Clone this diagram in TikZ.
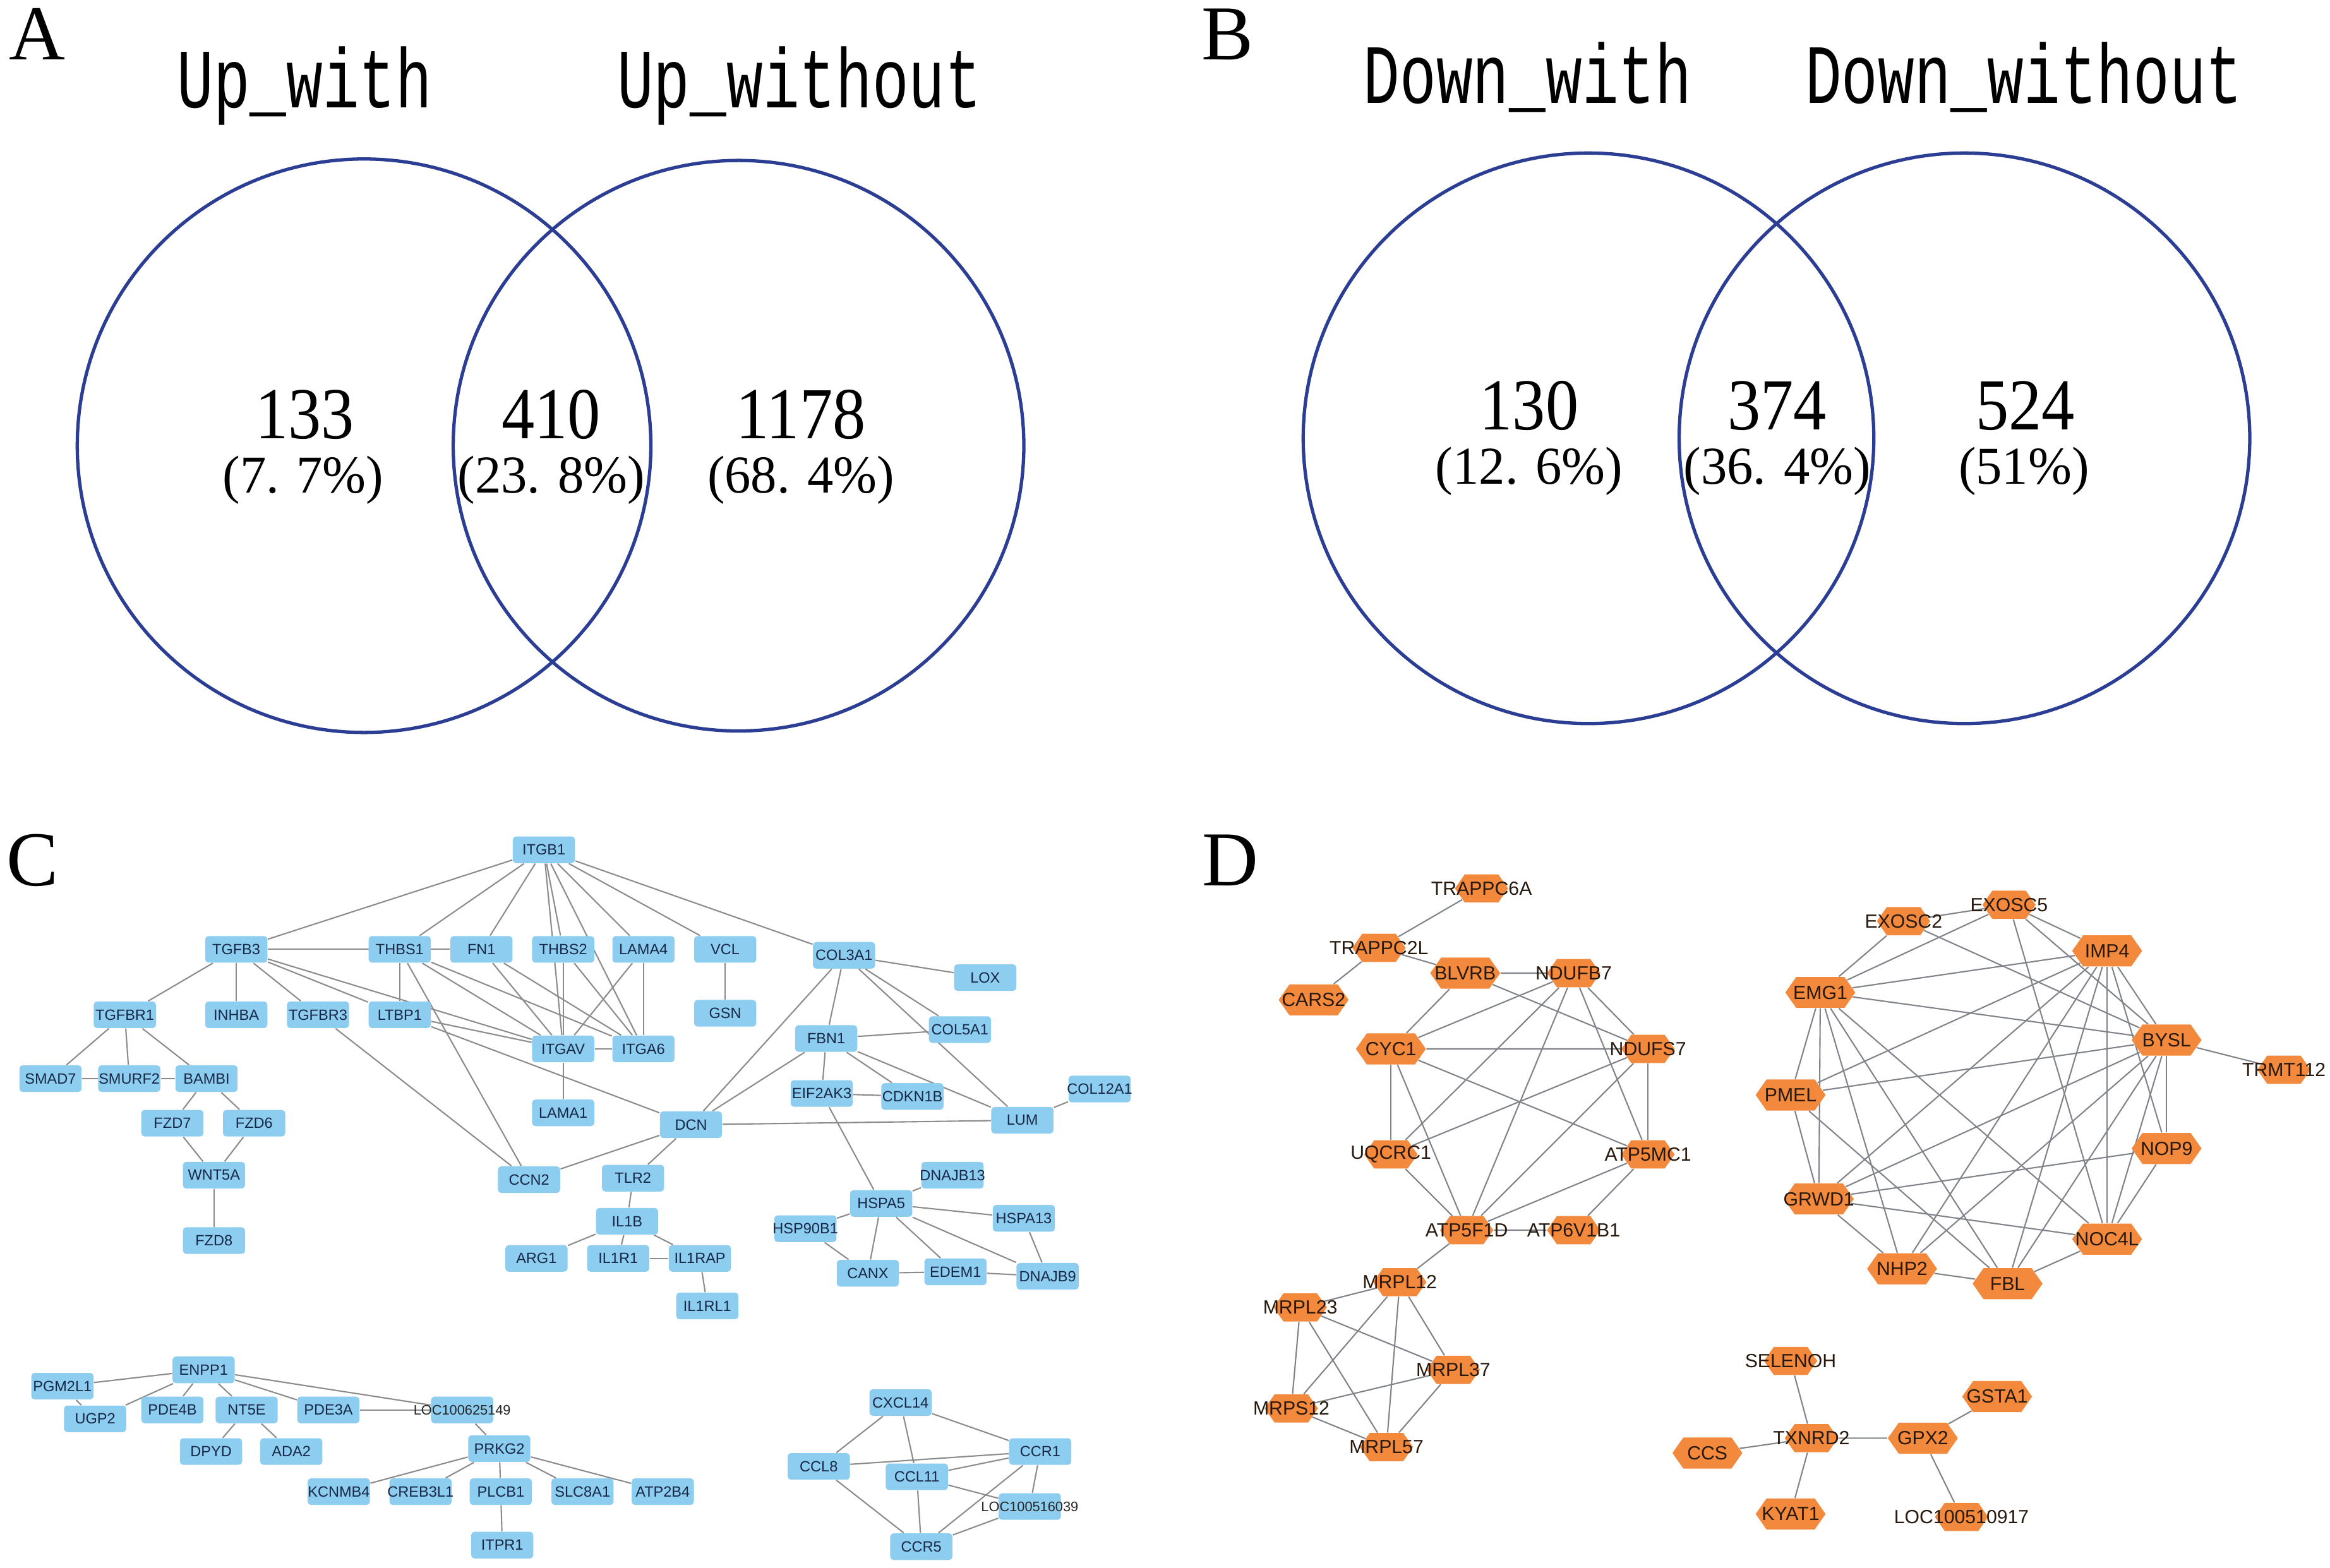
\documentclass[tikz,border=0pt]{standalone}
\usepackage{fontspec}
\usepackage{graphicx}
\setmainfont{Liberation Serif}
\setsansfont{Liberation Sans}
\newfontfamily\monof{Liberation Mono}
\usetikzlibrary{shapes.symbols}
\definecolor{vennblue}{RGB}{44,62,148}
\definecolor{nodeblue}{RGB}{140,205,240}
\definecolor{hexorange}{RGB}{242,137,60}
\definecolor{edgegray}{RGB}{140,140,140}
\definecolor{dedgecol}{RGB}{128,132,138}
\definecolor{ctext}{RGB}{25,40,70}
\definecolor{dtext}{RGB}{40,25,15}
\pgfdeclarelayer{bg}
\pgfsetlayers{bg,main}
\newcommand\gnC[3]{\node[cbox] (#1) at (#2) {\makebox[0pt]{#3}};}
\newcommand\gnD[4]{\node[#1] (#2) at (#3) {\makebox[0pt]{#4}};}
\newcommand\loctxt[1]{{\fontsize{6.2}{7}\selectfont\color{black!85}#1}}
\begin{document}
\begin{tikzpicture}[x=0.023527cm, y=-0.023527cm,
  cbox/.style={rectangle, rounded corners=1.5pt, fill=nodeblue, draw=none, minimum width=28pt, minimum height=12pt, inner sep=0pt, font=\sffamily\fontsize{6.7}{7}\selectfont, text=ctext},
  hexbase/.style={signal, signal to=west and east, signal pointer angle=110, fill=hexorange, draw=none, inner sep=0pt, font=\sffamily\fontsize{8.6}{10}\selectfont, text=dtext},
  hexL/.style={hexbase, minimum width=31.5pt, minimum height=14pt},
  hexS/.style={hexbase, minimum width=24pt, minimum height=12.7pt},
  cedge/.style={draw=edgegray, line width=0.6pt},
  dedge/.style={draw=dedgecol, line width=0.6pt},
  venn/.style={draw=vennblue, line width=1.5pt},
  plabel/.style={font=\fontsize{35}{35}\selectfont, inner sep=0pt},
  vtitle/.style={font=\monof\fontsize{38}{38}\selectfont, inner sep=0pt},
  vnum/.style={font=\fontsize{33}{33}\selectfont, inner sep=0pt},
  vpct/.style={font=\fontsize{24}{24}\selectfont, inner sep=0pt}
]
\begin{pgfonlayer}{bg}
\fill[white] (0,0) rectangle (1568,1055);
\end{pgfonlayer}
\useasboundingbox (0,0) rectangle (1568,1055);

% panel letters
\node[plabel] (pA) at (25,23) {A};
\node[plabel] (pB) at (826,23) {B};
\node[plabel] (pC) at (22,579) {C};
\node[plabel] (pD) at (828,579) {D};

% Venn A
\draw[venn] (245,300) circle [radius=193];
\draw[venn] (497,300) circle [radius=192];
\node[vtitle] (tUw) at (205,58) {\scalebox{0.72}[1]{Up\_with}};
\node[vtitle] (tUwo) at (538,58) {\scalebox{0.72}[1]{Up\_without}};
\node[vnum] (n133) at (205,279) {\scalebox{0.9}[1]{133}};
\node[vpct] (p133) at (204,323) {\scalebox{0.98}[1]{(7.\,\,7\%)}};
\node[vnum] (n410) at (371,279) {\scalebox{0.9}[1]{410}};
\node[vpct] (p410) at (371,323) {\scalebox{0.98}[1]{(23.\,\,8\%)}};
\node[vnum] (n1178) at (539,279) {\scalebox{0.9}[1]{1178}};
\node[vpct] (p1178) at (539,323) {\scalebox{0.98}[1]{(68.\,\,4\%)}};

% Venn B
\draw[venn] (1069,295) circle [radius=192];
\draw[venn] (1322,295) circle [radius=192];
\node[vtitle] (tDw) at (1028,52) {\scalebox{0.72}[1]{Down\_with}};
\node[vtitle] (tDwo) at (1362,52) {\scalebox{0.72}[1]{Down\_without}};
\node[vnum] (n130) at (1029,273) {\scalebox{0.9}[1]{130}};
\node[vpct] (p130) at (1029,317) {\scalebox{0.98}[1]{(12.\,\,6\%)}};
\node[vnum] (n374) at (1196,273) {\scalebox{0.9}[1]{374}};
\node[vpct] (p374) at (1196,317) {\scalebox{0.98}[1]{(36.\,\,4\%)}};
\node[vnum] (n524) at (1363,273) {\scalebox{0.9}[1]{524}};
\node[vpct] (p524) at (1362,317) {\scalebox{0.98}[1]{(51\%)}};

% Panel C nodes
\gnC{ITGB1}{366,572}{ITGB1}
\gnC{TGFB3}{159,639}{TGFB3}
\gnC{THBS1}{269,639}{THBS1}
\gnC{FN1}{324,639}{FN1}
\gnC{THBS2}{379,639}{THBS2}
\gnC{LAMA4}{433,639}{LAMA4}
\gnC{VCL}{488,639}{VCL}
\gnC{COL3A1}{568,643}{COL3A1}
\gnC{LOX}{663,658}{LOX}
\gnC{TGFBR1}{84,683}{TGFBR1}
\gnC{INHBA}{159,683}{INHBA}
\gnC{TGFBR3}{214,683}{TGFBR3}
\gnC{LTBP1}{269,683}{LTBP1}
\gnC{GSN}{488,682}{GSN}
\gnC{FBN1}{556,699}{FBN1}
\gnC{COL5A1}{646,693}{COL5A1}
\gnC{ITGAV}{379,706}{ITGAV}
\gnC{ITGA6}{433,706}{ITGA6}
\gnC{SMAD7}{34,726}{SMAD7}
\gnC{SMURF2}{87,726}{SMURF2}
\gnC{BAMBI}{139,726}{BAMBI}
\gnC{EIF2AK3}{553,736}{EIF2AK3}
\gnC{CDKN1B}{614,738}{CDKN1B}
\gnC{COL12A1}{740,733}{COL12A1}
\gnC{LUM}{688,754}{LUM}
\gnC{FZD7}{116,756}{FZD7}
\gnC{FZD6}{171,756}{FZD6}
\gnC{LAMA1}{379,749}{LAMA1}
\gnC{DCN}{465,757}{DCN}
\gnC{WNT5A}{144,791}{WNT5A}
\gnC{CCN2}{356,794}{CCN2}
\gnC{TLR2}{426,793}{TLR2}
\gnC{DNAJB13}{641,791}{DNAJB13}
\gnC{HSPA5}{593,810}{HSPA5}
\gnC{IL1B}{422,822}{IL1B}
\gnC{HSPA13}{689,820}{HSPA13}
\gnC{HSP90B1}{542,827}{HSP90B1}
\gnC{FZD8}{144,835}{FZD8}
\gnC{ARG1}{361,847}{ARG1}
\gnC{IL1R1}{416,847}{IL1R1}
\gnC{IL1RAP}{471,847}{IL1RAP}
\gnC{CANX}{584,857}{CANX}
\gnC{EDEM1}{643,856}{EDEM1}
\gnC{DNAJB9}{705,859}{DNAJB9}
\gnC{IL1RL1}{476,879}{IL1RL1}
\gnC{ENPP1}{137,922}{ENPP1}
\gnC{PGM2L1}{42,933}{PGM2L1}
\gnC{UGP2}{64,955}{UGP2}
\gnC{PDE4B}{116,949}{PDE4B}
\gnC{NT5E}{166,949}{NT5E}
\gnC{PDE3A}{221,949}{PDE3A}
\gnC{LOCa}{311,949}{\loctxt{LOC100625149}}
\gnC{DPYD}{142,977}{DPYD}
\gnC{ADA2}{196,977}{ADA2}
\gnC{PRKG2}{336,975}{PRKG2}
\gnC{KCNMB4}{228,1004}{KCNMB4}
\gnC{CREB3L1}{283,1004}{CREB3L1}
\gnC{PLCB1}{337,1004}{PLCB1}
\gnC{SLC8A1}{392,1004}{SLC8A1}
\gnC{ATP2B4}{446,1004}{ATP2B4}
\gnC{ITPR1}{338,1040}{ITPR1}
\gnC{CXCL14}{606,944}{CXCL14}
\gnC{CCL8}{551,987}{CCL8}
\gnC{CCL11}{617,994}{CCL11}
\gnC{CCR1}{700,977}{CCR1}
\gnC{LOCb}{693,1014}{\loctxt{LOC100516039}}
\gnC{CCR5}{620,1041}{CCR5}

% Panel D nodes
\gnD{hexS}{TRAPPC6A}{997,598}{TRAPPC6A}
\gnD{hexS}{TRAPPC2L}{928,638}{TRAPPC2L}
\gnD{hexL}{CARS2}{884,673}{CARS2}
\gnD{hexL}{BLVRB}{986,655}{BLVRB}
\gnD{hexS}{NDUFB7}{1059,655}{NDUFB7}
\gnD{hexL}{CYC1}{936,706}{CYC1}
\gnD{hexS}{NDUFS7}{1109,706}{NDUFS7}
\gnD{hexS}{UQCRC1}{936,777}{UQCRC1}
\gnD{hexS}{ATP5MC1}{1109,777}{ATP5MC1}
\gnD{hexS}{ATP5F1D}{987,828}{ATP5F1D}
\gnD{hexS}{ATP6V1B1}{1059,828}{ATP6V1B1}
\gnD{hexS}{MRPL12}{942,863}{MRPL12}
\gnD{hexS}{MRPL23}{875,880}{MRPL23}
\gnD{hexS}{MRPL37}{978,922}{MRPL37}
\gnD{hexS}{MRPS12}{869,948}{MRPS12}
\gnD{hexS}{MRPL57}{933,974}{MRPL57}
\gnD{hexS}{EXOSC5}{1352,609}{EXOSC5}
\gnD{hexS}{EXOSC2}{1281,620}{EXOSC2}
\gnD{hexL}{IMP4}{1418,640}{IMP4}
\gnD{hexL}{EMG1}{1225,668}{EMG1}
\gnD{hexL}{BYSL}{1458,700}{BYSL}
\gnD{hexS}{TRMT112}{1537,720}{TRMT112}
\gnD{hexL}{PMEL}{1205,737}{PMEL}
\gnD{hexL}{NOP9}{1458,773}{NOP9}
\gnD{hexL}{GRWD1}{1224,807}{GRWD1}
\gnD{hexL}{NOC4L}{1418,834}{NOC4L}
\gnD{hexL}{NHP2}{1280,854}{NHP2}
\gnD{hexL}{FBL}{1351,864}{FBL}
\gnD{hexS}{SELENOH}{1205,916}{SELENOH}
\gnD{hexL}{GSTA1}{1344,940}{GSTA1}
\gnD{hexS}{TXNRD2}{1219,968}{TXNRD2}
\gnD{hexL}{GPX2}{1294,968}{GPX2}
\gnD{hexL}{CCS}{1149,978}{CCS}
\gnD{hexL}{KYAT1}{1205,1019}{KYAT1}
\gnD{hexS}{LOCc}{1320,1021}{LOC100510917}

\begin{pgfonlayer}{bg}
\foreach \a/\b in {ITGB1/TGFB3, ITGB1/THBS1, ITGB1/FN1, ITGB1/THBS2, ITGB1/ITGAV, ITGB1/ITGA6, ITGB1/LAMA4, ITGB1/VCL, ITGB1/COL3A1,
  TGFB3/THBS1, TGFB3/FN1, TGFB3/TGFBR1, TGFB3/INHBA, TGFB3/TGFBR3, TGFB3/LTBP1, TGFB3/ITGAV,
  THBS1/LTBP1, THBS1/ITGAV, THBS1/ITGA6, THBS1/CCN2, FN1/ITGAV, FN1/ITGA6,
  THBS2/ITGAV, THBS2/ITGA6, LAMA4/ITGAV, LAMA4/ITGA6, LTBP1/ITGAV, LTBP1/DCN, TGFBR3/CCN2,
  ITGAV/ITGA6, ITGAV/LAMA1, VCL/GSN,
  COL3A1/LOX, COL3A1/FBN1, COL3A1/COL5A1, COL3A1/LUM, COL3A1/DCN,
  FBN1/COL5A1, FBN1/DCN, FBN1/EIF2AK3, FBN1/CDKN1B, FBN1/LUM,
  EIF2AK3/CDKN1B, EIF2AK3/HSPA5, DCN/LUM, DCN/CCN2, DCN/TLR2, LUM/COL12A1,
  TLR2/IL1B, IL1B/ARG1, IL1B/IL1R1, IL1B/IL1RAP, IL1R1/IL1RAP, IL1RAP/IL1RL1,
  HSPA5/DNAJB13, HSPA5/HSP90B1, HSPA5/HSPA13, HSPA5/CANX, HSPA5/EDEM1, HSPA5/DNAJB9,
  HSP90B1/CANX, CANX/EDEM1, EDEM1/DNAJB9, HSPA13/DNAJB9,
  TGFBR1/SMAD7, TGFBR1/SMURF2, TGFBR1/BAMBI, SMAD7/SMURF2, SMURF2/BAMBI, BAMBI/FZD7, BAMBI/FZD6,
  FZD7/WNT5A, FZD6/WNT5A, WNT5A/FZD8,
  ENPP1/PGM2L1, ENPP1/UGP2, ENPP1/PDE4B, ENPP1/NT5E, ENPP1/PDE3A, ENPP1/LOCa, PGM2L1/UGP2,
  NT5E/DPYD, NT5E/ADA2, PDE3A/LOCa, LOCa/PRKG2, PRKG2/KCNMB4, PRKG2/CREB3L1, PRKG2/PLCB1,
  PRKG2/SLC8A1, PRKG2/ATP2B4, PLCB1/ITPR1,
  CXCL14/CCL8, CXCL14/CCL11, CXCL14/CCR1, CCL8/CCR1, CCL8/CCR5, CCL11/CCR1, CCL11/CCR5,
  CCL11/LOCb, CCR1/LOCb, CCR1/CCR5, LOCb/CCR5}
  \draw[cedge] (\a) -- (\b);
\foreach \a/\b in {TRAPPC6A/TRAPPC2L, TRAPPC2L/CARS2, TRAPPC2L/BLVRB,
  BLVRB/NDUFB7, BLVRB/CYC1, BLVRB/NDUFS7,
  NDUFB7/CYC1, NDUFB7/UQCRC1, NDUFB7/ATP5F1D, NDUFB7/NDUFS7, NDUFB7/ATP5MC1,
  CYC1/NDUFS7, CYC1/UQCRC1, CYC1/ATP5F1D, CYC1/ATP5MC1,
  NDUFS7/UQCRC1, NDUFS7/ATP5F1D, NDUFS7/ATP5MC1,
  UQCRC1/ATP5F1D, ATP5MC1/ATP5F1D, ATP5MC1/ATP6V1B1, ATP5F1D/ATP6V1B1, ATP5F1D/MRPL12,
  MRPL12/MRPL23, MRPL12/MRPS12, MRPL12/MRPL57, MRPL12/MRPL37, MRPL23/MRPS12, MRPL23/MRPL57,
  MRPL23/MRPL37, MRPS12/MRPL37, MRPS12/MRPL57, MRPL37/MRPL57,
  EXOSC2/EXOSC5, EXOSC5/EMG1, EXOSC2/EMG1, EXOSC5/IMP4, EXOSC5/BYSL, EXOSC5/NOC4L, EXOSC2/BYSL,
  EMG1/IMP4, EMG1/BYSL, EMG1/PMEL, EMG1/GRWD1, EMG1/NHP2, EMG1/FBL, EMG1/NOC4L,
  IMP4/PMEL, IMP4/GRWD1, IMP4/NHP2, IMP4/FBL, IMP4/NOC4L, IMP4/NOP9, IMP4/BYSL,
  BYSL/TRMT112, BYSL/PMEL, BYSL/GRWD1, BYSL/NHP2, BYSL/FBL, BYSL/NOC4L, BYSL/NOP9,
  PMEL/GRWD1, PMEL/FBL, NOP9/GRWD1, NOP9/NOC4L, GRWD1/NOC4L, GRWD1/NHP2, NHP2/FBL, FBL/NOC4L,
  SELENOH/TXNRD2, CCS/TXNRD2, KYAT1/TXNRD2, TXNRD2/GPX2, GPX2/GSTA1, GPX2/LOCc}
  \draw[dedge] (\a) -- (\b);
\end{pgfonlayer}
\end{tikzpicture}
\end{document}
